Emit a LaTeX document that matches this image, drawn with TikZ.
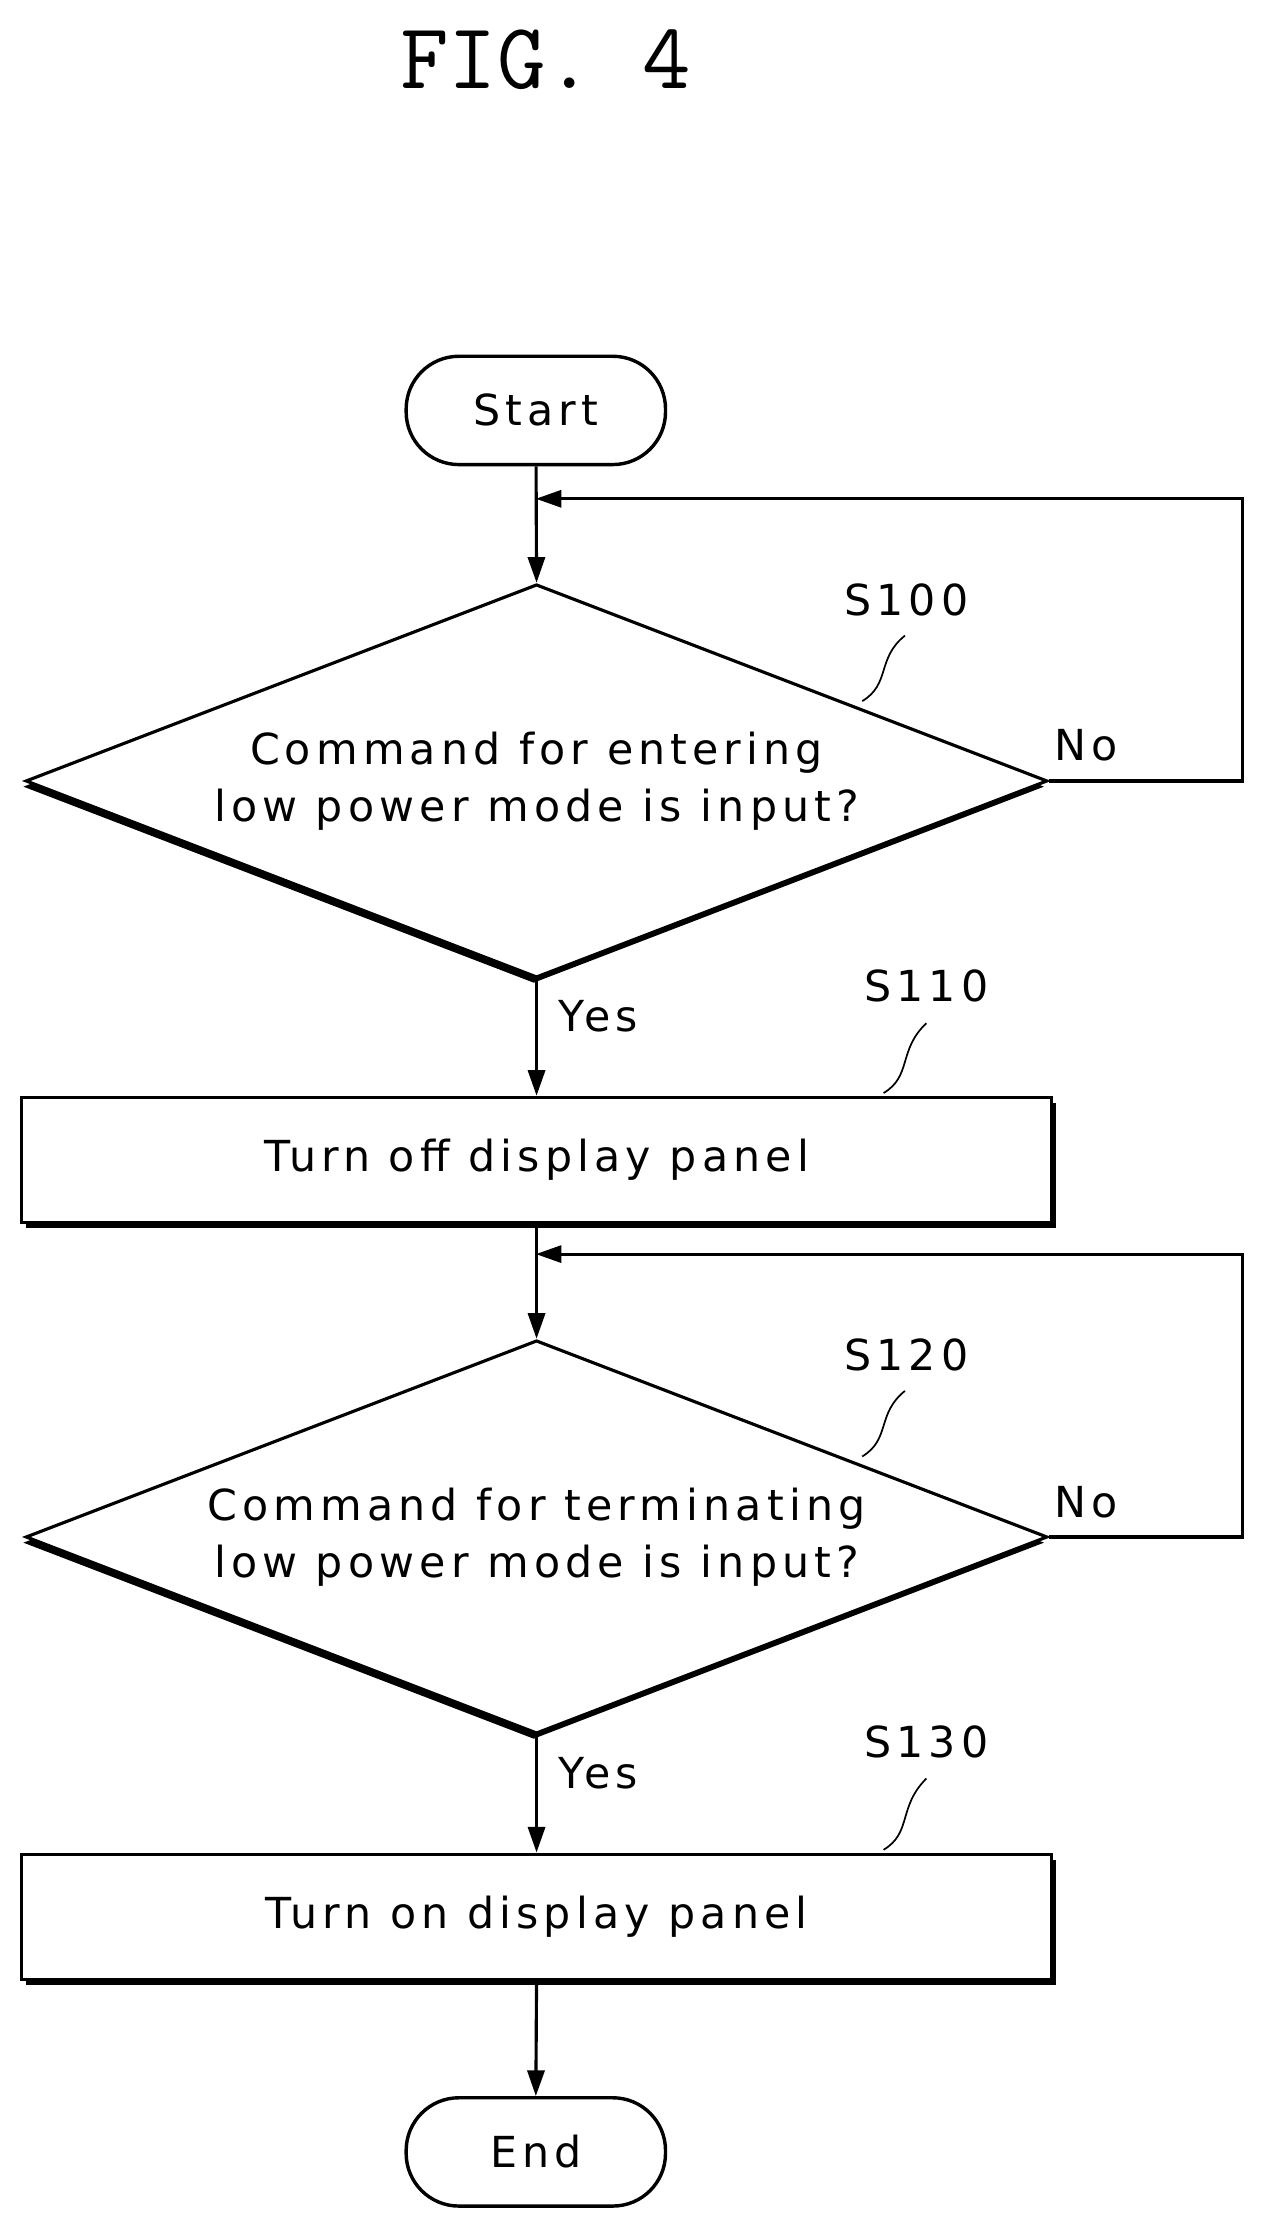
\documentclass[tikz,border=0pt]{standalone}
\usepackage{fontspec}
\setmainfont{DejaVu Sans}[LetterSpace=12]
\usetikzlibrary{shapes.geometric,shadows,arrows.meta,positioning}
\begin{document}
\begin{tikzpicture}[x=1pt,y=-1pt,
  txt/.style={font=\fontsize{30}{40}\selectfont},
  term/.style={draw,line width=2.4pt,rounded corners=37pt,minimum width=182pt,minimum height=76pt,txt,fill=white},
  box/.style={draw,line width=2.2pt,minimum width=723pt,minimum height=88pt,txt,fill=white,drop shadow={shadow xshift=3pt,shadow yshift=-4pt,opacity=1,fill=black}},
  dia/.style={draw,line width=2.2pt,diamond,aspect=2.6,minimum width=717pt,minimum height=276pt,inner sep=0pt,align=center,txt,fill=white,drop shadow={shadow xshift=-2pt,shadow yshift=-4pt,opacity=1,fill=black}},
  arr/.style={line width=2.2pt,-{Triangle[length=18pt,width=12pt]}},
  lbl/.style={font=\fontsize{30}{30}\selectfont},
  sq/.style={line width=1.2pt}]
\useasboundingbox (0,0) rectangle (885,1562);
\node[font=\fontsize{66}{70}\selectfont\ttfamily] (title) at (383,42) {FIG. 4};
\node[term] (start) at (376,288) {Start};
\node[dia] (d1) at (376.5,548) {Command for entering\\low power mode is input?};
\node[box] (b1) at (376.5,814) {Turn off display panel};
\node[dia] (d2) at (376.5,1078.5) {Command for terminating\\low power mode is input?};
\node[box] (b2) at (376.5,1345) {Turn on display panel};
\node[term] (end) at (376,1510) {End};
\coordinate (j1) at (376,350);
\coordinate (j2) at (376,880);
\draw[arr] (start) -- (d1.north);
\draw[arr] (d1.east) -- (872,548) |- (j1);
\draw[arr] (d1.south) -- (b1.north);
\draw[arr] (b1.south) -- (d2.north);
\draw[arr] (d2.east) -- (872,1078.5) |- (j2);
\draw[arr] (d2.south) -- (b2.north);
\draw[arr] (b2.south) -- (end.north);
\node[lbl] (no1) at (762,523) {No};
\node[lbl] (no2) at (762,1054) {No};
\node[lbl] (y1) at (420,713) {Yes};
\node[lbl] (y2) at (420,1244) {Yes};
\node[lbl] (s100) at (636,421) {S100};
\node[lbl] (s110) at (650,692) {S110};
\node[lbl] (s120) at (636,951) {S120};
\node[lbl] (s130) at (650,1222) {S130};
\draw[sq] (605,492) .. controls (625,480) and (615,462) .. (635,446);
\draw[sq] (620,767) .. controls (640,755) and (630,737) .. (650,718);
\draw[sq] (605,1022) .. controls (625,1010) and (615,992) .. (635,976);
\draw[sq] (620,1298) .. controls (640,1286) and (630,1268) .. (650,1248);
\end{tikzpicture}
\end{document}
